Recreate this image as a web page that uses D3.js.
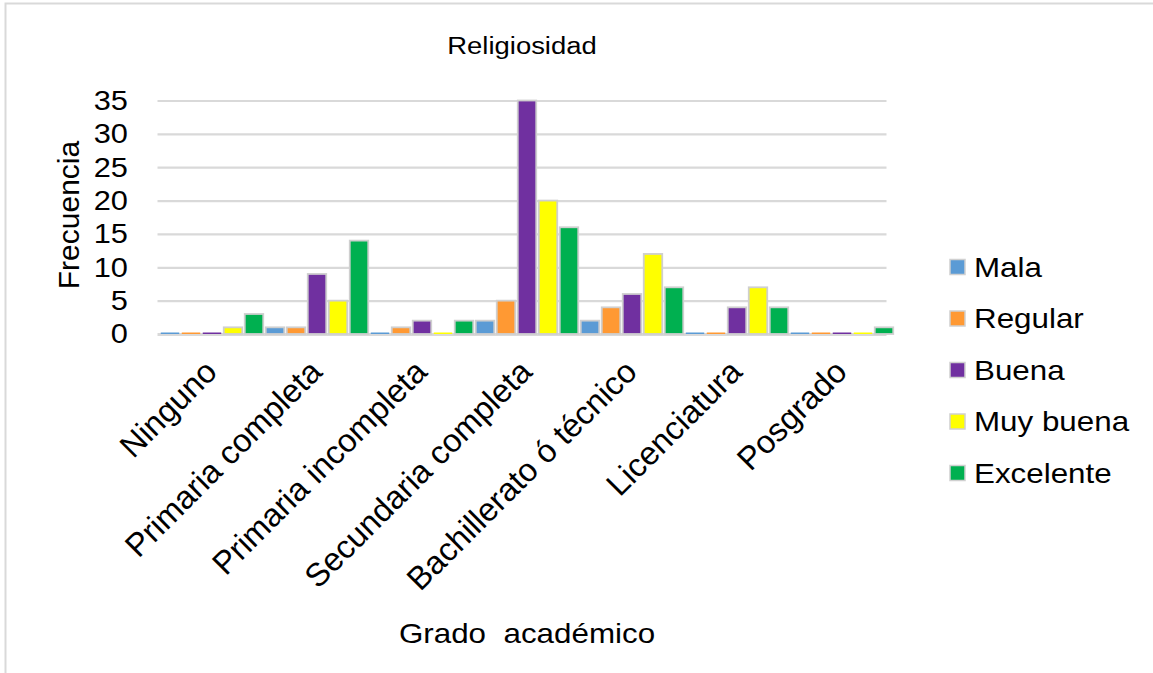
<!DOCTYPE html>
<html>
<head>
<meta charset="utf-8">
<script src="https://cdn.jsdelivr.net/npm/d3@7"></script>
<style>
  html, body { margin: 0; padding: 0; background: #fff; }
  svg text { font-family: "Liberation Sans", Arial, sans-serif; fill: #000; }
</style>
</head>
<body>
<svg id="chart" width="1153" height="673"></svg>
<script>
// ---- data ----
const categories = ["Ninguno", "Primaria completa", "Primaria incompleta", "Secundaria completa",
                    "Bachillerato ó técnico", "Licenciatura", "Posgrado"];
const seriesNames = ["Mala", "Regular", "Buena", "Muy buena", "Excelente"];
const mala      = [0, 1, 0, 2, 2, 0, 0];
const regular   = [0, 1, 1, 5, 4, 0, 0];
const buena     = [0, 9, 2, 35, 6, 4, 0];
const muyBuena  = [1, 5, 0, 20, 12, 7, 0];
const excelente = [3, 14, 2, 16, 7, 4, 1];
const yTicks = [0, 5, 10, 15, 20, 25, 30, 35];
const colors = ["#5B9BD5", "#FF9933", "#7030A0", "#FFFF00", "#00B050"];
const title = "Religiosidad";
const yTitle = "Frecuencia";
const xTitle = "Grado  académico";

const seriesValues = [mala, regular, buena, muyBuena, excelente];

// ---- layout ----
const SX = 1.12; // horizontal stretch of text seen in the reference
const svg = d3.select("#chart");
const plot = { left: 159.5, right: 894.5, top: 100.5, bottom: 334 };

const x0 = d3.scaleBand().domain(categories).range([plot.left, plot.right]).padding(0);
const x1 = d3.scaleBand().domain(seriesNames).range([0, x0.bandwidth()]).paddingInner(0.12).paddingOuter(0.06);
const y = d3.scaleLinear().domain([0, 35]).range([plot.bottom, plot.top]);

// chart border (left and top visible)
svg.append("rect").attr("x", 5.5).attr("y", 3.5).attr("width", 1300).attr("height", 800)
  .attr("fill", "none").attr("stroke", "#d9d9d9").attr("stroke-width", 2);

// gridlines
const yAxis = d3.axisLeft(y).tickValues(yTicks).tickSize(-(plot.right - plot.left - 6)).tickFormat("");
const gGrid = svg.append("g").attr("transform", `translate(${plot.left - 2},0)`).call(yAxis);
gGrid.select(".domain").remove();
gGrid.selectAll(".tick line").attr("stroke", "#d9d9d9").attr("stroke-width", 2.2);
gGrid.selectAll(".tick").filter(d => d === 0).select("line").attr("stroke-width", 3.2);

// tick labels
svg.append("g").selectAll("text").data(yTicks).join("text")
  .attr("transform", d => `translate(128,${y(d)}) scale(${SX},1)`)
  .attr("text-anchor", "end").attr("dominant-baseline", "central")
  .attr("font-size", 27.5).text(d => d);

// bars
const gCat = svg.append("g").selectAll("g").data(categories).join("g")
  .attr("transform", c => `translate(${x0(c)},0)`);
gCat.selectAll("rect").data((c, ci) => seriesNames.map((s, si) => ({ s, si, v: seriesValues[si][ci] })))
  .join("rect")
  .attr("x", d => x1(d.s))
  .attr("width", x1.bandwidth())
  .attr("y", d => d.v > 0 ? y(d.v) : y(0) - 1.5)
  .attr("height", d => d.v > 0 ? y(0) - y(d.v) : 1.5)
  .attr("fill", d => colors[d.si])
  .attr("stroke", d => d.v > 0 ? "#cfcfcf" : "none")
  .attr("stroke-width", 1.8);

// x category labels
svg.append("g").selectAll("text").data(categories).join("text")
  .attr("transform", c => `translate(${x0(c) + x0.bandwidth() / 2 - 1},366) rotate(-45)`)
  .attr("text-anchor", "end").attr("dominant-baseline", "central")
  .attr("font-size", 32.5).text(c => c);

// title
svg.append("text").attr("transform", `translate(522,46) scale(${SX},1)`)
  .attr("text-anchor", "middle").attr("dominant-baseline", "central")
  .attr("font-size", 24.5).text(title);

// y title
svg.append("text").attr("transform", `translate(68,215) rotate(-90)`)
  .attr("text-anchor", "middle").attr("dominant-baseline", "central")
  .attr("font-size", 30).text(yTitle);

// x title
svg.append("text").attr("transform", `translate(527,633) scale(${SX},1)`)
  .attr("text-anchor", "middle").attr("dominant-baseline", "central")
  .attr("font-size", 28).style("white-space", "pre").text(xTitle);

// legend
const leg = svg.append("g").selectAll("g").data(seriesNames).join("g")
  .attr("transform", (d, i) => `translate(949,${267 + i * 51.5})`);
leg.append("rect").attr("x", 1).attr("y", -7.5).attr("width", 15).attr("height", 15)
  .attr("fill", (d, i) => colors[i]).attr("stroke", "#d0d0d0").attr("stroke-width", 1.5);
leg.append("text").attr("transform", `translate(25,0) scale(${SX},1)`)
  .attr("dominant-baseline", "central").attr("font-size", 28).text(d => d);
</script>
</body>
</html>
